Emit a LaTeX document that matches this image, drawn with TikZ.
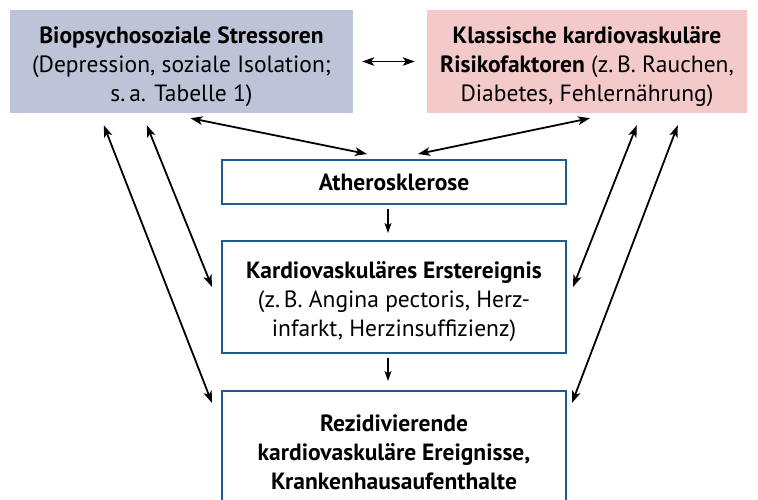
\documentclass[tikz,border=0pt]{standalone}
\usepackage{fontspec}
\setmainfont{PT Sans}
\usetikzlibrary{arrows.meta}
\definecolor{lboxfill}{HTML}{BEC4D8}
\definecolor{rboxfill}{HTML}{F4C9C9}
\definecolor{boxline}{HTML}{1F5B8F}
\tikzset{
  txt/.style={font=\fontsize{23.5}{29}\selectfont, align=center, inner sep=0pt},
  topbox/.style={minimum height=103pt, inner sep=0pt},
  midbox/.style={draw=boxline, line width=2pt, fill=white, minimum width=344pt, inner sep=0pt},
  dbl/.style={{Stealth[length=12pt,width=8.5pt,inset=3pt]}-{Stealth[length=12pt,width=8.5pt,inset=3pt]}, line width=1.8pt},
  sgl/.style={-{Stealth[length=10pt,width=7pt,inset=2.5pt]}, line width=1.4pt}
}
\begin{document}
\begin{tikzpicture}[x=1pt,y=-1pt]
\useasboundingbox (0,0) rectangle (758,499);
\node[topbox, fill=lboxfill, minimum width=343pt] (L) at (181.5,61.5) {};
\node[txt] (Lt) at ([yshift=-5pt]L.center)
  {\textbf{Biopsychosoziale Stressoren}\\(Depression, soziale Isolation;\\s.\,a. Tabelle 1)};
\node[topbox, fill=rboxfill, minimum width=320pt] (R) at (587,61.5) {};
\node[txt] (Rt) at ([yshift=-5pt]R.center)
  {\textbf{Klassische kardiovaskuläre}\\\textbf{Risikofaktoren} (z.\,B. Rauchen,\\Diabetes, Fehlernährung)};
\node[midbox, minimum height=44pt] (A) at (394,182) {};
\node[txt] (At) at (A.center) {\textbf{Atherosklerose}};
\node[midbox, minimum height=112pt] (E) at (394,297) {};
\node[txt] (Et) at ([yshift=-5pt]E.center)
  {\textbf{Kardiovaskuläres Erstereignis}\\(z.\,B. Angina pectoris, Herz-\\infarkt, Herzinsuffizienz)};
\node[midbox, minimum height=122pt] (Z) at (394,452) {};
\node[txt] (Zt) at (Z.center)
  {\textbf{Rezidivierende}\\\textbf{kardiovaskuläre Ereignisse,}\\\textbf{Krankenhausaufenthalte}};
\draw[dbl, shorten <=9pt, shorten >=12pt] (L.east) -- (R.west);
\draw[dbl] ([xshift=9pt,yshift=-5pt]L.south) -- ([xshift=-27pt,yshift=5pt]A.north);
\draw[dbl] ([xshift=3pt,yshift=-5pt]R.south) -- ([xshift=24pt,yshift=5pt]A.north);
\draw[dbl] ([xshift=137pt,yshift=-12pt]L.south west) -- ([xshift=-9pt,yshift=10pt]E.west);
\draw[dbl] ([xshift=94pt,yshift=-12pt]L.south west) -- ([xshift=-9pt,yshift=49pt]Z.west);
\draw[dbl] ([xshift=210pt,yshift=-12pt]R.south west) -- ([xshift=6pt,yshift=10pt]E.east);
\draw[dbl] ([xshift=251pt,yshift=-12pt]R.south west) -- ([xshift=5pt,yshift=49pt]Z.east);
\draw[sgl] ([xshift=-6pt,yshift=-4pt]A.south) -- ([xshift=-6pt,yshift=7pt]E.north);
\draw[sgl] ([xshift=-6pt,yshift=-4pt]E.south) -- ([xshift=-6pt,yshift=9pt]Z.north);
\end{tikzpicture}
\end{document}
